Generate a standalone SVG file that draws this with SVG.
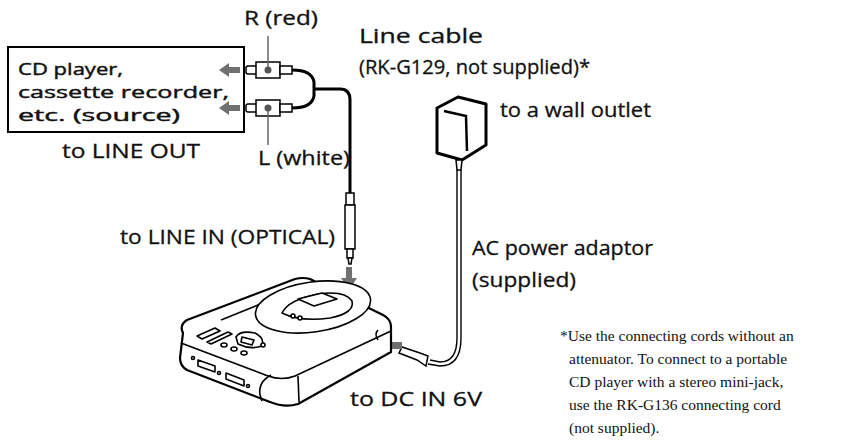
<svg xmlns="http://www.w3.org/2000/svg" width="843" height="448" viewBox="0 0 843 448">
<style>
.t{font-family:"Open Sans","Liberation Sans",sans-serif;font-size:20px;font-weight:normal;fill:#111;stroke:#111;stroke-width:0.3}
.b{font-size:17px;stroke-width:0.45}
.f{font-family:"Liberation Serif",serif;font-size:15.5px;fill:#111}
.k{fill:none;stroke:#000;stroke-linejoin:round}
.g{fill:#707070}
</style>
<rect width="843" height="448" fill="#fff"/>
<g id="source">
<rect x="8" y="47" width="236" height="85" fill="#fff" stroke="#000" stroke-width="2"/>
<text class="t b" x="18" y="75" textLength="105" lengthAdjust="spacingAndGlyphs">CD player,</text>
<text class="t b" x="18" y="98" textLength="211" lengthAdjust="spacingAndGlyphs">cassette recorder,</text>
<text class="t b" x="18" y="121" textLength="162" lengthAdjust="spacingAndGlyphs">etc. (source)</text>
<text class="t" x="62" y="158" textLength="138" lengthAdjust="spacingAndGlyphs">to LINE OUT</text>
</g>
<g id="linecable">
<path class="k" style="stroke-width:3" d="M292 70 Q312 70 314 82 L314 96 Q312 108 292 108"/>
<path class="k" style="stroke-width:3" d="M314 89 L340 89 Q350 89 350 100 L350 196"/>
<g fill="#fff" stroke="#000" stroke-width="1.5">
<rect x="246" y="66" width="11" height="8" rx="2"/><rect x="256" y="62" width="24" height="16"/><rect x="280" y="66" width="12" height="8"/>
<rect x="246" y="104" width="11" height="8" rx="2"/><rect x="256" y="100" width="24" height="16"/><rect x="280" y="104" width="12" height="8"/>
<rect x="346" y="193" width="8" height="12"/><rect x="345" y="205" width="10" height="44"/><rect x="347" y="249" width="6" height="9"/><path d="M348 258 L352 258 L351 264 L349 264 Z"/>
</g>
<circle cx="268" cy="70" r="3.5" fill="#555"/><circle cx="268" cy="108" r="3.5" fill="#555"/>
<line x1="268" y1="36" x2="268" y2="67" stroke="#666" stroke-width="1.5"/>
<line x1="268" y1="111" x2="268" y2="145" stroke="#666" stroke-width="1.5"/>
<path class="g" d="M219 70 L229 63 L229 67 L240 67 L240 73 L229 73 L229 77 Z"/>
<path class="g" d="M219 108 L229 101 L229 105 L240 105 L240 111 L229 111 L229 115 Z"/>
<path class="g" d="M346 267 L352 267 L352 278 L357 278 L349 290 L341 278 L346 278 Z"/>
<text class="t" x="244" y="25" textLength="74" lengthAdjust="spacingAndGlyphs">R (red)</text>
<text class="t" x="258" y="165" textLength="92" lengthAdjust="spacingAndGlyphs">L (white)</text>
<text class="t" x="359" y="43" textLength="124" lengthAdjust="spacingAndGlyphs">Line cable</text>
<text class="t" x="359" y="74" textLength="231" lengthAdjust="spacingAndGlyphs">(RK-G129, not supplied)*</text>
<text class="t" x="120" y="244" textLength="215" lengthAdjust="spacingAndGlyphs">to LINE IN (OPTICAL)</text>
</g>
<g id="adaptor">
<path d="M437 108 L458 97 L486 104 L486 145 L462 160 L437 153 Z" fill="#fff" stroke="#000" stroke-width="3" stroke-linejoin="round"/>
<path d="M444 111 L466 116 L467 151" fill="none" stroke="#000" stroke-width="2.5"/>
<path d="M456 160 L462 160 L461 170 L457 170 Z" fill="#fff" stroke="#000" stroke-width="1.5"/>
<path d="M457 170 L457 338 Q457 362 440 362 L430 360 M461 170 L461 338 Q461 366 440 366 L428 364" fill="none" stroke="#000" stroke-width="1.4"/>
<path d="M428 356 L420 353 L402 347 L399 353 L417 360 L426 366 Z" fill="#fff" stroke="#000" stroke-width="1.5"/>
<path class="g" d="M376 345 L388 338 L388 342 L402 342 L402 349 L388 349 L388 352 Z"/>
<text class="t" x="500" y="117" textLength="151" lengthAdjust="spacingAndGlyphs">to a wall outlet</text>
<text class="t" x="472" y="255" textLength="181" lengthAdjust="spacingAndGlyphs">AC power adaptor</text>
<text class="t" x="472" y="287" textLength="104" lengthAdjust="spacingAndGlyphs">(supplied)</text>
<text class="t" x="350" y="406" textLength="132" lengthAdjust="spacingAndGlyphs">to DC IN 6V</text>
</g>
<g id="recorder" fill="#fff" stroke="#000" stroke-width="1.6" stroke-linejoin="round">
<path d="M183 333 Q179 325 187 320 L295 279 Q303 277 310 279 L383 315 Q391 319 391 327 L391 352 L298 404 Q285 408 270 402 L187 370 Q180 366 180 358 Z" stroke-width="2.2"/>
<path d="M181 343 L268 376 Q282 381 295 376 L391 331" fill="none"/>
<path d="M271 375 Q258 382 260 395 L262 401" fill="none"/>
<path d="M298 376 L299 402" fill="none"/>
<path d="M221 320 L300 288" fill="none"/>
<ellipse cx="313" cy="307" rx="58" ry="25" transform="rotate(-8 313 307)"/>
<path d="M282 313 Q288 300 318 294 Q345 290 352 301 Q355 313 330 318 Q300 322 282 313 Z"/>
<path d="M298 299 L322 293 L337 299 L314 306 Z"/>
<circle cx="293" cy="316" r="2"/><circle cx="300" cy="318" r="2"/>
<path d="M197 336 L215 328 L220 331 L202 339 Z"/><path d="M207 342 L228 332 L232 334 L211 344 Z"/>
<path d="M236 337 Q240 330 255 333 Q265 338 262 346 Q250 350 238 344 Z"/><path d="M242 337 L254 340 L252 345 L241 342 Z"/>
<ellipse cx="224" cy="345" rx="3" ry="2"/><ellipse cx="234" cy="349" rx="3" ry="2"/><ellipse cx="244" cy="353" rx="3" ry="2"/><ellipse cx="263" cy="345" rx="2" ry="2"/>
<path d="M198 360 L215 366 L215 372 L198 366 Z"/><path d="M226 373 L244 380 L244 386 L226 379 Z"/>
<circle cx="193" cy="358" r="1.5"/><circle cx="248" cy="386" r="1.5"/><circle cx="219" cy="373" r="1.5"/>
<path d="M378 340 Q374 334 378 330" fill="none"/>
</g>
<g id="footnote">
<text class="f" x="560" y="341">*Use the connecting cords without an</text>
<text class="f" x="569" y="364">attenuator. To connect to a portable</text>
<text class="f" x="569" y="387">CD player with a stereo mini-jack,</text>
<text class="f" x="569" y="410">use the RK-G136 connecting cord</text>
<text class="f" x="569" y="433">(not supplied).</text>
</g>
</svg>
